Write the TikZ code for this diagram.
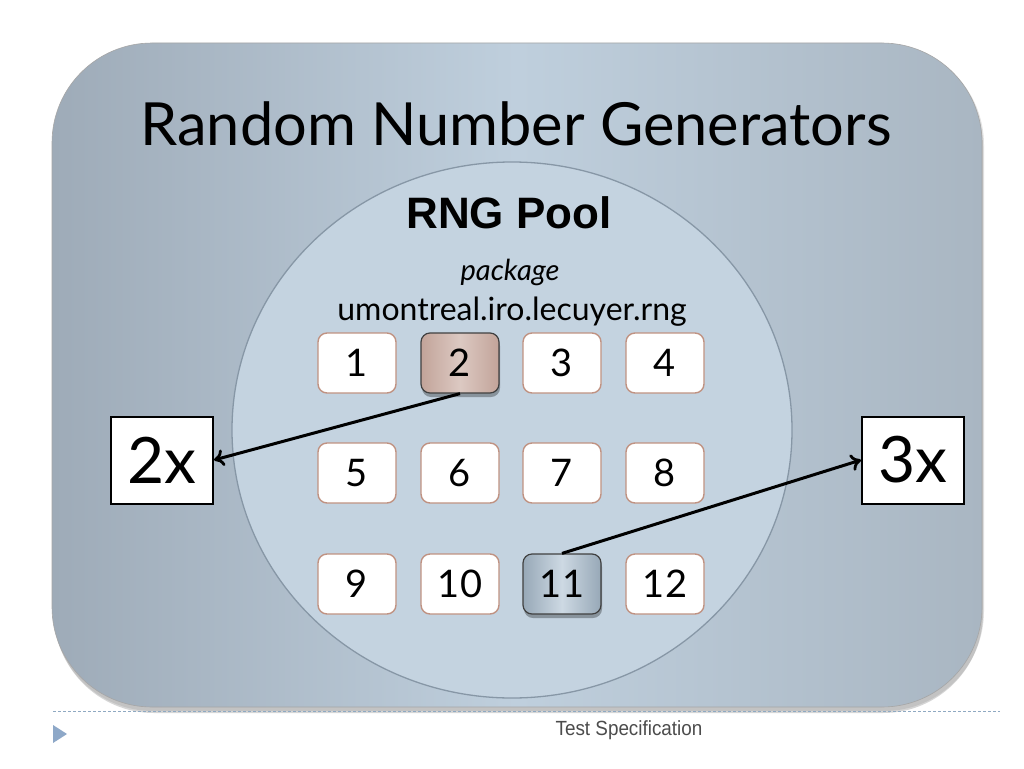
\documentclass[tikz,border=0pt]{standalone}
\usepackage{fontspec}
\setmainfont{Lato}
\newfontfamily\arialfont{Liberation Sans}
\usetikzlibrary{arrows.meta}
\definecolor{panelL}{HTML}{9EABB8}
\definecolor{panelM}{HTML}{BFCFDD}
\definecolor{panelR}{HTML}{A9B6C2}
\definecolor{poolfill}{HTML}{C4D3E0}
\definecolor{poolline}{HTML}{8797A6}
\definecolor{boxline}{HTML}{C09282}
\definecolor{selA}{HTML}{C2A399}
\definecolor{selB}{HTML}{DCC9C2}
\definecolor{selC}{HTML}{97A8B7}
\definecolor{selD}{HTML}{CDD9E3}
\definecolor{footline}{HTML}{8FA9C2}
\definecolor{foottri}{HTML}{8EA8C8}
\tikzset{
  numbox/.style={draw=boxline, line width=1.4pt, fill=white, rounded corners=9pt,
    minimum width=78pt, minimum height=60pt, inner sep=0pt,
    font=\fontsize{38}{44}\selectfont},
  selbox/.style={numbox, draw=black!75, line width=1.2pt},
  multbox/.style={draw=black, line width=2pt, fill=white,
    minimum width=102pt, minimum height=87pt, inner sep=0pt,
    font=\fontsize{64}{70}\selectfont},
  link/.style={line width=3pt, -{To[length=10pt,width=17pt,line width=2.8pt]}}
}
\begin{document}
\begin{tikzpicture}[x=1pt,y=-1pt]
\useasboundingbox (0,0) rectangle (1024,768);
\fill[white] (0,0) rectangle (1024,768);
% panel shadow
\fill[black!45, opacity=0.35, rounded corners=100pt] (54,47) rectangle (983,713);
\fill[black!45, opacity=0.25, rounded corners=100pt] (53,45) rectangle (984,711);
% panel
\shade[rounded corners=100pt, left color=panelL, right color=panelR, middle color=panelM]
  (52,43) rectangle (982,707);
\draw[black!35, line width=0.6pt, rounded corners=100pt] (52,43) rectangle (982,707);
% title
\node[anchor=base, font=\fontsize{59.5}{66}\selectfont] (title) at (516,145) {Random Number Generators};
% pool
\draw[poolline, line width=1.3pt, fill=poolfill] (512,430) ellipse [x radius=280pt, y radius=268pt];
\node[anchor=base, font=\arialfont\bfseries\fontsize{44}{50}\selectfont] (pool) at (509,228) {RNG Pool};
\node[anchor=base, font=\itshape\fontsize{29}{34}\selectfont] (pkg) at (510,280) {package};
\node[anchor=base, font=\fontsize{32}{37}\selectfont] (pkgname) at (512,320) {umontreal.iro.lecuyer.rng};
% boxes
\node[numbox] (b1) at (357,363) {1};
\fill[black, opacity=0.3, rounded corners=9pt] (422,337) rectangle (500,397);
\shade[rounded corners=9pt, left color=selA, right color=selA, middle color=selB]
  (421,333) rectangle (499,393);
\node[selbox, fill=none] (b2) at (460,363) {2};
\node[numbox] (b3) at (562,363) {3};
\node[numbox] (b4) at (665,363) {4};
\node[numbox] (b5) at (357,473) {5};
\node[numbox] (b6) at (460,473) {6};
\node[numbox] (b7) at (562,473) {7};
\node[numbox] (b8) at (665,473) {8};
\node[numbox] (b9) at (357,584) {9};
\node[numbox] (b10) at (460,584) {10};
\fill[black, opacity=0.3, rounded corners=9pt] (524,558) rectangle (602,618);
\shade[rounded corners=9pt, left color=selC, right color=selC, middle color=selD]
  (523,554) rectangle (601,614);
\node[selbox, fill=none] (b11) at (562,584) {11};
\node[numbox] (b12) at (665,584) {12};
% multiplicity boxes
\node[multbox] (x2) at (162,460) {2x};
\node[multbox] (x3) at (913,460) {3x};
% links
\draw[link] (b2.south) -- (x2.east);
\draw[link] (b11.north) -- (x3.west);
% footer
\coordinate (fl) at (53,711);
\coordinate (fr) at (1000,711);
\draw[footline, line width=0.8pt, dash pattern=on 3pt off 2pt] (fl) -- (fr);
\fill[foottri] (53,725) -- (67,734) -- (53,743) -- cycle;
\node[font=\arialfont\fontsize{20.5}{24}\selectfont, text=black!70, xscale=0.92] (foot) at (629,730) {Test Specification};
\end{tikzpicture}
\end{document}
